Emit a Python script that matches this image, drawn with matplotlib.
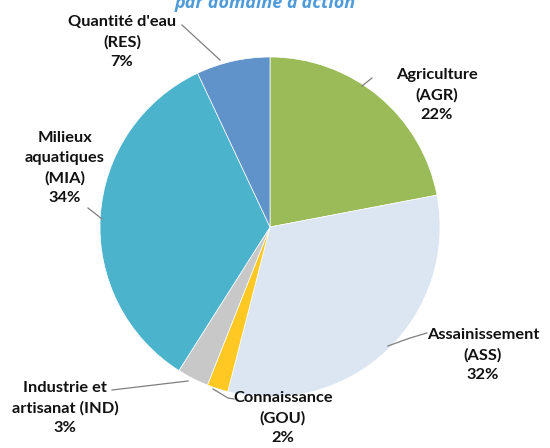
import matplotlib.pyplot as plt
from matplotlib.patches import Wedge

codes = ["AGR", "ASS", "GOU", "IND", "MIA", "RES"]
shares = [22, 32, 2, 3, 34, 7]
labels = ["Agriculture\n(AGR)\n22%", "Assainissement\n(ASS)\n32%", "Connaissance\n(GOU)\n2%",
          "Industrie et\nartisanat (IND)\n3%", "Milieux\naquatiques\n(MIA)\n34%", "Quantité d'eau\n(RES)\n7%"]
colors = ["#9BBB59", "#DCE6F2", "#FFC823", "#C8C8C8", "#4BB3CC", "#5F93CA"]
title = "par domaine d'action"

W, H = 550, 448
fig = plt.figure(figsize=(W / 100, H / 100), dpi=100)
ax = fig.add_axes([0, 0, 1, 1])
ax.set_xlim(0, W)
ax.set_ylim(H, 0)
ax.axis("off")

# pie in pixel coords (y down), clockwise from 12 o'clock
cx, cy, r = 270, 227, 170
start = -90.0
for share, col in zip(shares, colors):
    sweep = share / sum(shares) * 360
    # y axis is inverted, so increasing angle runs clockwise on screen
    ax.add_patch(Wedge((cx, cy), r, start, start + sweep, facecolor=col,
                       edgecolor="white", linewidth=0.5))
    start += sweep

# label text positions and leader lines (pixel coords)
text_pos = [(437, 95), (483, 355), (283, 418), (65, 408), (65, 168), (122, 42)]
leaders = [
    [(362, 86), (372, 78)],
    [(388, 346), (410, 338), (427, 333)],
    [(213, 389), (228, 398), (234, 399)],
    [(188, 381), (112, 390)],
    [(102, 219), (88, 208)],
    [(220, 60), (182, 25)],
]
for lab, (tx, ty), pts in zip(labels, text_pos, leaders):
    ax.text(tx, ty, lab, ha="center", va="center", fontsize=11.8, fontweight="bold",
            family="Lato", linespacing=1.5, color="#111111")
    xs, ys = zip(*pts)
    ax.plot(xs, ys, color="#7f7f7f", lw=0.9)

ax.text(265, 3, title, ha="center", va="center", fontsize=13, fontweight="bold",
        fontstyle="italic", family="Open Sans", color="#4F9BDA")

fig.savefig("out.png", dpi=100)
